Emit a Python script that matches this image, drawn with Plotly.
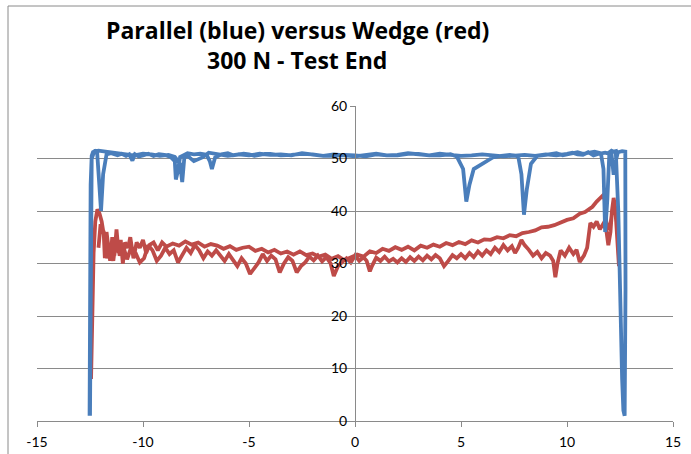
import plotly.graph_objects as go

# ---- data ----
# Parallel (blue): outbound pass then return pass, as (x, y) pairs
blue_out = [(-12.52, 1.0), (-12.5, 20.0), (-12.47, 45.0), (-12.42, 50.5), (-12.36, 51.2), (-12.26, 51.4),
            (-12.16, 51.0), (-12.06, 45.0), (-11.98, 40.0), (-11.88, 47.0), (-11.72, 50.8), (-11.5, 51.0),
            (-11.2, 50.6), (-11.0, 50.9), (-10.8, 50.5), (-10.65, 50.8), (-10.5, 49.6), (-10.38, 50.8),
            (-10.2, 50.4), (-10.0, 50.6), (-9.75, 50.9), (-9.5, 50.5), (-9.25, 50.8), (-9.0, 50.7),
            (-8.7, 50.3), (-8.5, 49.5), (-8.45, 46.0), (-8.36, 47.5), (-8.25, 50.3), (-8.1, 50.6),
            (-7.9, 51.0), (-7.6, 50.8), (-7.3, 50.9), (-7.0, 50.7), (-6.85, 49.5), (-6.75, 48.0),
            (-6.6, 50.2), (-6.3, 50.8), (-6.0, 51.0), (-5.75, 50.6), (-5.5, 50.7), (-5.25, 50.9),
            (-5.0, 50.8), (-4.75, 50.5), (-4.5, 50.7), (-4.25, 50.9), (-4.0, 50.9), (-3.5, 50.6),
            (-3.0, 50.7), (-2.5, 50.9), (-2.0, 50.8), (-1.5, 50.5), (-1.0, 50.5), (-0.5, 50.7),
            (0.0, 50.6), (0.5, 50.4), (1.0, 50.8), (1.5, 50.6), (2.0, 50.6), (2.5, 50.9), (3.0, 50.9),
            (3.5, 50.6), (4.0, 50.6), (4.5, 50.8), (4.8, 50.4), (5.1, 48.0), (5.25, 41.8), (5.4, 45.0),
            (5.6, 48.0), (5.9, 48.8), (6.2, 49.5), (6.5, 50.2), (6.9, 50.5), (7.3, 50.7), (7.7, 50.4),
            (7.85, 47.0), (7.97, 39.3), (8.1, 44.0), (8.3, 49.0), (8.6, 50.5), (9.0, 50.7), (9.3, 50.9),
            (9.5, 51.0), (9.8, 50.6), (10.0, 50.8), (10.25, 51.0), (10.5, 51.2), (10.75, 50.9),
            (11.0, 51.0), (11.3, 51.3), (11.6, 51.0), (11.72, 48.0), (11.8, 36.0), (11.9, 42.0),
            (12.0, 51.2), (12.1, 51.5), (12.2, 51.3), (12.3, 51.4), (12.42, 40.0), (12.52, 20.0),
            (12.6, 8.0), (12.66, 2.0), (12.69, 1.0)]
blue_back = [(12.72, 1.0), (12.76, 25.0), (12.75, 51.3), (12.6, 51.4), (12.4, 51.2), (12.27, 49.0),
             (12.2, 46.9), (12.1, 50.8), (11.8, 51.1), (11.5, 50.9), (11.25, 50.6), (11.0, 51.2),
             (10.75, 50.7), (10.5, 50.8), (10.25, 51.1), (10.0, 50.9), (9.5, 50.6), (9.0, 50.8),
             (8.5, 50.5), (8.0, 50.7), (7.5, 50.6), (7.0, 50.4), (6.5, 50.6), (6.0, 50.8), (5.5, 50.6),
             (5.0, 50.5), (4.5, 50.7), (4.0, 50.9), (3.5, 50.6), (3.0, 50.8), (2.5, 51.0), (2.0, 50.7),
             (1.5, 50.6), (1.0, 50.9), (0.5, 50.7), (0.0, 50.4), (-0.5, 50.6), (-1.0, 50.8), (-1.5, 50.5),
             (-2.0, 50.7), (-2.5, 51.0), (-3.0, 50.6), (-3.5, 50.8), (-4.0, 50.7), (-4.5, 50.9),
             (-5.0, 50.6), (-5.5, 50.8), (-6.0, 50.5), (-6.5, 50.9), (-6.9, 51.1), (-7.2, 50.2),
             (-7.6, 49.5), (-7.9, 50.5), (-8.05, 50.2), (-8.15, 45.5), (-8.25, 49.0), (-8.5, 50.3),
             (-8.8, 50.7), (-9.2, 50.5), (-9.6, 50.8), (-10.0, 50.9), (-10.4, 50.6), (-10.8, 50.8),
             (-11.2, 51.0), (-11.6, 51.2), (-11.9, 51.4), (-12.1, 51.5), (-12.3, 51.3), (-12.42, 50.0),
             (-12.47, 20.0), (-12.5, 1.0)]

# Wedge (red): outbound pass then return pass, as (x, y) pairs
red_out = [(-12.45, 8.0), (-12.4, 20.0), (-12.33, 32.0), (-12.25, 38.0), (-12.15, 40.3), (-12.05, 39.5),
           (-11.95, 38.0), (-11.85, 35.5), (-11.8, 31.0), (-11.72, 36.0), (-11.62, 33.0), (-11.55, 30.5),
           (-11.45, 35.0), (-11.35, 31.5), (-11.25, 36.5), (-11.15, 32.0), (-11.05, 34.5), (-10.95, 30.0),
           (-10.85, 34.0), (-10.7, 33.0), (-10.6, 35.0), (-10.45, 31.0), (-10.3, 34.0), (-10.15, 33.0),
           (-10.0, 34.5), (-9.85, 32.0), (-9.7, 33.5), (-9.5, 34.0), (-9.3, 32.5), (-9.1, 34.0),
           (-8.9, 33.2), (-8.6, 33.8), (-8.3, 33.4), (-8.0, 34.2), (-7.7, 33.6), (-7.4, 34.0),
           (-7.1, 33.2), (-6.8, 33.7), (-6.5, 33.4), (-6.2, 32.8), (-5.9, 33.3), (-5.6, 32.6),
           (-5.3, 33.0), (-5.0, 33.2), (-4.7, 32.4), (-4.4, 32.8), (-4.1, 32.1), (-3.8, 32.6),
           (-3.5, 31.9), (-3.2, 32.3), (-2.9, 31.7), (-2.6, 32.3), (-2.3, 31.6), (-2.0, 31.9),
           (-1.7, 31.3), (-1.4, 31.7), (-1.1, 30.9), (-0.8, 31.4), (-0.5, 30.6), (-0.2, 31.2),
           (0.1, 31.7), (0.4, 31.3), (0.7, 32.3), (1.0, 32.0), (1.3, 32.8), (1.6, 32.4), (1.9, 33.1),
           (2.2, 32.6), (2.5, 33.2), (2.8, 32.5), (3.1, 33.4), (3.4, 33.0), (3.7, 33.6), (4.0, 33.2),
           (4.3, 33.9), (4.6, 33.5), (4.9, 34.1), (5.2, 33.7), (5.5, 34.4), (5.8, 34.0), (6.1, 34.6),
           (6.4, 34.5), (6.7, 35.0), (7.0, 34.8), (7.3, 35.4), (7.6, 35.2), (7.9, 35.8), (8.2, 36.0),
           (8.5, 36.3), (8.8, 36.9), (9.1, 37.0), (9.4, 37.3), (9.7, 37.9), (10.0, 38.3), (10.3, 38.6),
           (10.6, 39.5), (10.85, 39.8), (11.0, 40.3), (11.2, 40.8), (11.4, 41.8), (11.55, 42.5),
           (11.7, 43.0), (11.78, 42.2), (11.85, 38.0), (11.95, 36.5), (12.05, 37.5), (12.15, 40.5),
           (12.25, 41.5), (12.32, 38.0), (12.4, 32.0), (12.45, 29.5)]
red_back = [(12.38, 36.0), (12.3, 40.0), (12.2, 42.5), (12.12, 40.0), (12.05, 36.0), (11.95, 33.5),
            (11.85, 36.5), (11.7, 37.5), (11.55, 36.5), (11.4, 38.0), (11.25, 37.0), (11.1, 37.7),
            (10.95, 33.0), (10.8, 31.5), (10.6, 30.3), (10.45, 32.6), (10.3, 31.8), (10.1, 33.0),
            (9.9, 31.5), (9.7, 32.5), (9.55, 30.0), (9.45, 27.4), (9.35, 30.5), (9.2, 31.5), (9.0, 32.0),
            (8.8, 31.0), (8.6, 32.2), (8.4, 31.5), (8.2, 32.6), (8.0, 33.5), (7.85, 34.5), (7.7, 33.0),
            (7.55, 32.0), (7.4, 33.3), (7.2, 32.5), (7.0, 33.5), (6.8, 32.2), (6.6, 33.0), (6.4, 31.8),
            (6.2, 32.5), (6.0, 31.5), (5.8, 32.3), (5.6, 31.2), (5.4, 32.0), (5.2, 31.0), (5.0, 31.8),
            (4.8, 31.0), (4.6, 31.6), (4.4, 30.5), (4.2, 29.5), (4.0, 31.0), (3.8, 31.6), (3.6, 30.8),
            (3.4, 31.5), (3.2, 30.6), (3.0, 31.3), (2.8, 30.5), (2.6, 31.2), (2.4, 30.3), (2.2, 31.0),
            (2.0, 30.2), (1.8, 30.9), (1.6, 30.4), (1.4, 31.3), (1.2, 30.5), (1.0, 31.1), (0.8, 29.5),
            (0.7, 28.5), (0.55, 30.5), (0.4, 31.2), (0.2, 30.5), (0.0, 31.5), (-0.2, 30.2), (-0.4, 31.0),
            (-0.6, 30.3), (-0.8, 29.5), (-1.0, 27.6), (-1.15, 30.0), (-1.35, 31.2), (-1.55, 30.4),
            (-1.75, 31.5), (-1.95, 30.6), (-2.15, 31.3), (-2.35, 30.2), (-2.55, 29.5), (-2.75, 28.3),
            (-2.95, 30.5), (-3.15, 31.2), (-3.35, 30.0), (-3.55, 28.3), (-3.75, 30.8), (-3.95, 31.5),
            (-4.15, 30.5), (-4.35, 31.8), (-4.55, 30.2), (-4.75, 29.2), (-4.95, 28.0), (-5.15, 30.0),
            (-5.35, 31.0), (-5.55, 29.5), (-5.75, 30.8), (-5.95, 31.8), (-6.15, 30.5), (-6.35, 31.5),
            (-6.55, 32.5), (-6.75, 31.5), (-6.95, 32.3), (-7.15, 31.0), (-7.35, 32.5), (-7.55, 33.5),
            (-7.75, 32.0), (-7.95, 33.0), (-8.15, 31.5), (-8.35, 30.2), (-8.55, 32.5), (-8.75, 31.8),
            (-8.95, 33.0), (-9.15, 31.5), (-9.35, 30.5), (-9.55, 32.5), (-9.75, 33.5), (-9.95, 31.0),
            (-10.15, 30.2), (-10.35, 32.0), (-10.55, 33.2), (-10.75, 30.8), (-10.95, 33.5), (-11.1, 31.5),
            (-11.25, 35.5), (-11.4, 30.5), (-11.55, 33.5), (-11.7, 31.0), (-11.85, 36.0), (-12.0, 37.5),
            (-12.1, 33.0)]

x_ticks = [-15, -10, -5, 0, 5, 10, 15]
y_ticks = [0, 10, 20, 30, 40, 50, 60]
title_line1 = "Parallel (blue) versus Wedge (red)"
title_line2 = "300 N - Test End"

BLUE = "#4a7ebb"
RED = "#be4b48"
GRID = "#8a8a8a"
FONT = "Lato, 'Open Sans', sans-serif"
TFONT = "'Open Sans', sans-serif"

red_pts = red_out + red_back
blue_pts = blue_out + blue_back

fig = go.Figure()
fig.add_trace(go.Scatter(x=[p[0] for p in red_pts], y=[p[1] for p in red_pts], mode="lines",
                         line=dict(color=RED, width=3.8), name="Wedge", hoverinfo="skip"))
fig.add_trace(go.Scatter(x=[p[0] for p in blue_pts], y=[p[1] for p in blue_pts], mode="lines",
                         line=dict(color=BLUE, width=3.8), name="Parallel", hoverinfo="skip"))

fig.update_layout(
    width=691, height=454,
    margin=dict(l=37, r=18, t=106, b=33, autoexpand=False),
    paper_bgcolor="white", plot_bgcolor="white",
    showlegend=False,
    font=dict(family=FONT, size=14, color="black"),
    xaxis=dict(range=[-15, 15], tickmode="array", tickvals=x_ticks, ticktext=[str(v) for v in x_ticks],
               showgrid=False, zeroline=False, showline=True, linecolor=GRID, linewidth=1,
               ticks="outside", ticklen=5, tickcolor=GRID, ticklabelstandoff=3, automargin=False,
               fixedrange=True),
    yaxis=dict(range=[0, 60], tickmode="array", tickvals=y_ticks, ticktext=[str(v) for v in y_ticks],
               showgrid=True, gridcolor=GRID, gridwidth=1, zeroline=False,
               showline=True, linecolor=GRID, linewidth=1, anchor="free", position=0.5,
               ticks="outside", ticklen=5, tickcolor=GRID, automargin=False, fixedrange=True),
    annotations=[
        dict(text="<b>" + title_line1 + "</b>", xref="paper", yref="paper", x=(297 - 37) / 636,
             y=(421 - 30) / 315, xanchor="center", yanchor="middle", showarrow=False,
             font=dict(family=TFONT, size=23, color="black")),
        dict(text="<b>" + title_line2 + "</b>", xref="paper", yref="paper", x=(297 - 37) / 636,
             y=(421 - 60) / 315, xanchor="center", yanchor="middle", showarrow=False,
             font=dict(family=TFONT, size=23, color="black")),
    ],
    shapes=[dict(type="rect", xref="paper", yref="paper", x0=(8 - 37) / 636, x1=(720 - 37) / 636,
                 y0=(421 - 480) / 315, y1=(421 - 6) / 315, line=dict(color=GRID, width=1), layer="below")],
)

fig.write_html("out.html")
